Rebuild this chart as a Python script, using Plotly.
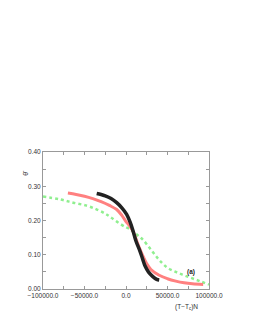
import plotly.graph_objects as go

# Black series
black_x = [-35300, -30000, -25000, -18000, -11200, -5000, 800, 5000, 8800, 12000,
           16900, 20000, 23000, 27000, 32000, 37000, 40000]
black_y = [0.279, 0.276, 0.272, 0.264, 0.252, 0.237, 0.218, 0.195, 0.167, 0.14,
           0.11, 0.088, 0.067, 0.05, 0.037, 0.028, 0.026]

# Red series
red_x = [-70000, -60000, -50000, -40000, -30000, -20000, -11200, -5000, 0, 4800,
         8800, 14800, 20000, 25000, 30000, 40000, 50000, 60000, 70000, 80000, 93000]
red_y = [0.28, 0.276, 0.271, 0.264, 0.255, 0.244, 0.232, 0.215, 0.197, 0.183,
         0.167, 0.128, 0.098, 0.074, 0.057, 0.04, 0.03, 0.023, 0.018, 0.015, 0.013]

# Green series
green_x = [-100000, -80000, -63500, -47000, -35000, -25000, -19300, -10000, 0, 4800,
           8800, 15000, 20000, 30000, 40000, 50000, 60000, 70000, 80000, 90000, 100000]
green_y = [0.27, 0.262, 0.252, 0.243, 0.232, 0.22, 0.211, 0.195, 0.18, 0.175,
           0.167, 0.155, 0.145, 0.115, 0.085, 0.062, 0.05, 0.04, 0.031, 0.022, 0.013]

fig = go.Figure()
fig.add_trace(go.Scatter(x=green_x, y=green_y, mode="lines", line=dict(color="#8fef8f", width=2.5, shape="spline", dash="dot")))
fig.add_trace(go.Scatter(x=red_x, y=red_y, mode="lines", line=dict(color="#ff8080", width=3, shape="spline")))
fig.add_trace(go.Scatter(x=black_x, y=black_y, mode="lines", line=dict(color="#222222", width=3.5, shape="spline")))

axis_common = dict(showgrid=False, zeroline=False, showline=True, linecolor="#999999", linewidth=1,
                   mirror="ticks", ticks="inside", ticklen=3, tickcolor="#999999", automargin=False,
                   tickfont=dict(family="Liberation Sans, Arial", size=6.5, color="#333333"))

fig.update_xaxes(range=[-100000, 100000], tickvals=[-100000, -50000, 0, 50000, 100000],
                 tickformat=".1f", minor=dict(dtick=25000, ticks="inside", ticklen=3, tickcolor="#999999"),
                 **axis_common)
fig.update_yaxes(range=[0, 0.4], tickvals=[0, 0.1, 0.2, 0.3, 0.4], tickformat=".2f",
                 minor=dict(dtick=0.05, ticks="inside", ticklen=3, tickcolor="#999999"),
                 **axis_common)

fig.add_annotation(x=78000, y=0.05, text="<b>(a)</b>", showarrow=False,
                   font=dict(family="Liberation Sans, Arial", size=6.5, color="#222222"))
fig.add_annotation(xref="paper", yref="paper", x=0.867, y=-0.085, xanchor="center", yanchor="top",
                   text="(T−T<sub>c</sub>)N", showarrow=False,
                   font=dict(family="Liberation Sans, Arial", size=6.5, color="#333333"))
fig.add_annotation(xref="paper", yref="paper", x=-0.14, y=0.876, text="θ̄", textangle=-90,
                   showarrow=False, font=dict(family="Liberation Sans, Arial", size=7, color="#333333"))

fig.update_layout(width=253, height=327, margin=dict(l=35, r=52, t=144, b=46, autoexpand=False),
                  paper_bgcolor="white", plot_bgcolor="white", showlegend=False)

fig.write_html("out.html")
